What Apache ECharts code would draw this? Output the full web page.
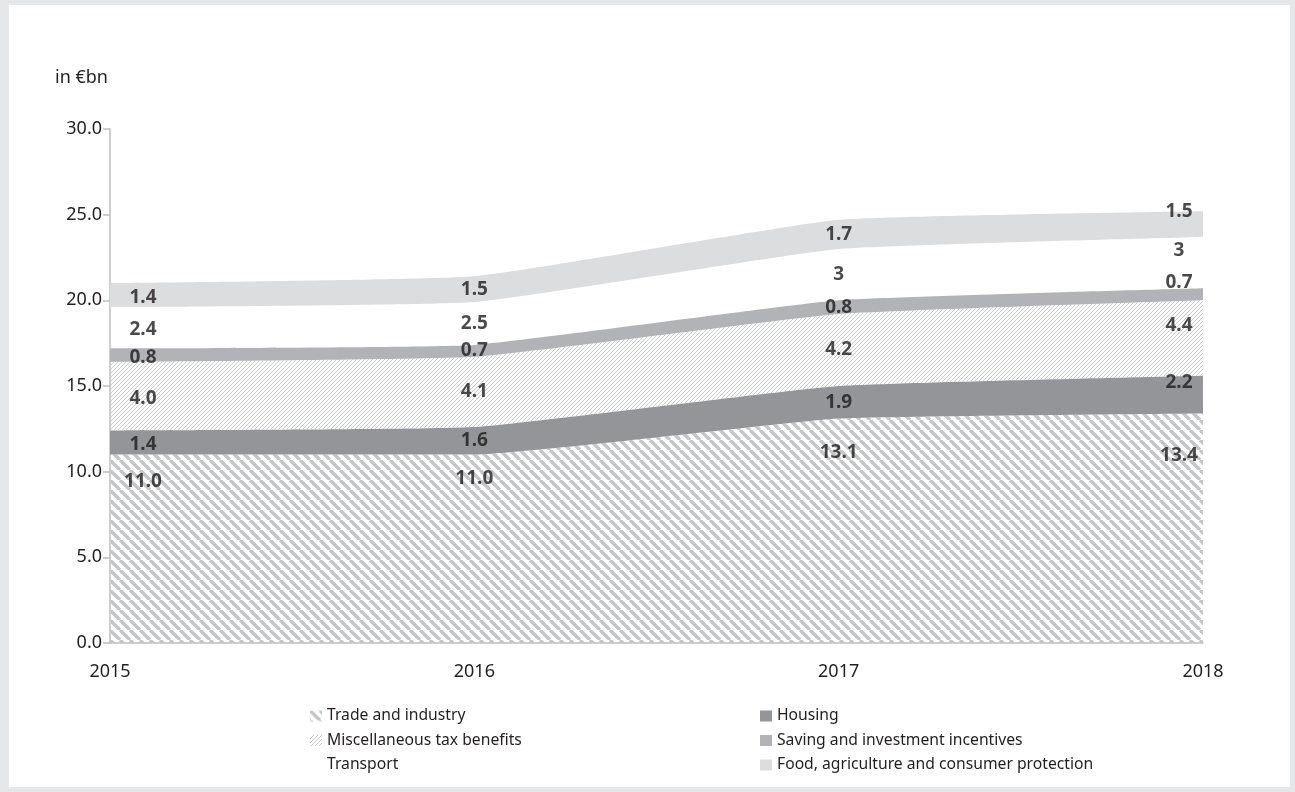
<!DOCTYPE html>
<html>
<head>
<meta charset="utf-8">
<title>Tax benefits by area, 2015–2018</title>
<script src="https://cdn.jsdelivr.net/npm/echarts@6/dist/echarts.min.js"></script>
<style>
  html, body { margin: 0; padding: 0; background: #e6e7e9; }
  #chart { width: 1295px; height: 792px; }
</style>
</head>
<body>
<div id="chart"></div>
<script>
// ---- data (in € billions) ----
const years = ['2015', '2016', '2017', '2018'];
const tradeIndustry = [11.0, 11.0, 13.1, 13.4];
const housing = [1.4, 1.6, 1.9, 2.2];
const miscTaxBenefits = [4.0, 4.1, 4.2, 4.4];
const savingInvestment = [0.8, 0.7, 0.8, 0.7];
const transport = [2.4, 2.5, 3, 3];
const foodAgriculture = [1.4, 1.5, 1.7, 1.5];
const valueLabels = {
  trade: ['11.0', '11.0', '13.1', '13.4'],
  housing: ['1.4', '1.6', '1.9', '2.2'],
  misc: ['4.0', '4.1', '4.2', '4.4'],
  saving: ['0.8', '0.7', '0.8', '0.7'],
  transport: ['2.4', '2.5', '3', '3'],
  food: ['1.4', '1.5', '1.7', '1.5']
};
const yTicks = { min: 0, max: 30, step: 5 };

// ---- hatch patterns ----
function hatch(size, color, width, dir) {
  const c = document.createElement('canvas');
  c.width = c.height = size;
  const g = c.getContext('2d');
  g.strokeStyle = color;
  g.lineWidth = width;
  g.beginPath();
  for (let k = -1; k <= 1; k++) {
    if (dir === 'down') { g.moveTo(k * size, 0); g.lineTo(k * size + size, size); }
    else { g.moveTo(k * size, size); g.lineTo(k * size + size, 0); }
  }
  g.stroke();
  return { image: c, repeat: 'repeat' };
}
const tradeFill = hatch(10, '#c4c5c7', 3.4, 'down');
const miscFill = hatch(4, '#bdbec0', 0.8, 'up');

const bands = [
  { name: 'Trade and industry', values: tradeIndustry, labels: valueLabels.trade, fill: tradeFill, anchor: 'top' },
  { name: 'Housing', values: housing, labels: valueLabels.housing, fill: '#939598', anchor: 'mid' },
  { name: 'Miscellaneous tax benefits', values: miscTaxBenefits, labels: valueLabels.misc, fill: miscFill, anchor: 'mid' },
  { name: 'Saving and investment incentives', values: savingInvestment, labels: valueLabels.saving, fill: '#b1b3b6', anchor: 'mid' },
  { name: 'Transport', values: transport, labels: valueLabels.transport, fill: 'rgba(255,255,255,0)', anchor: 'mid' },
  { name: 'Food, agriculture and consumer protection', values: foodAgriculture, labels: valueLabels.food, fill: '#dcdddf', anchor: 'mid' }
];

// label nudges per year column (pixels)
const labelDX = [33, 0, 0, -24];
const labelDY = [2, 0, 0, -12];
const topLabelDrop = [27, 24, 34, 42];

const series = [];
const base = years.map(() => 0);
bands.forEach(b => {
  series.push({
    name: b.name,
    type: 'line',
    stack: 'total',
    smooth: 0.12,
    symbol: 'none',
    lineStyle: { width: 0 },
    itemStyle: { color: b.fill },
    areaStyle: { color: b.fill, opacity: 1 },
    emphasis: { disabled: true },
    data: b.values,
    z: 2
  });
  const pts = years.map((y, i) => {
    const bottom = base[i];
    const top = bottom + b.values[i];
    const yv = b.anchor === 'top' ? top : bottom + b.values[i] / 2;
    const dy = b.anchor === 'top' ? topLabelDrop[i] : labelDY[i];
    return {
      value: [y, yv],
      label: { offset: [labelDX[i], dy], formatter: b.labels[i] }
    };
  });
  years.forEach((y, i) => { base[i] += b.values[i]; });
  series.push({
    name: b.name + ' label',
    type: 'scatter',
    symbolSize: 0,
    silent: true,
    z: 5,
    clip: false,
    label: {
      show: true,
      position: 'inside',
      fontFamily: 'Noto Sans',
      fontWeight: 'bold',
      fontSize: 19,
      color: '#1e1b1c'
    },
    data: pts
  });
});

const legendText = { fontFamily: 'Noto Sans', fontSize: 15.7, color: '#231f20', lineHeight: 18 };
function legendItem(b) {
  return { name: b.name, icon: 'rect', itemStyle: { color: b.fill, borderWidth: 0 } };
}

const chart = echarts.init(document.getElementById('chart'), null, { renderer: 'canvas' });
chart.setOption({
  backgroundColor: '#e6e7e9',
  animation: false,
  graphic: [{
    type: 'rect', left: 9, top: 5, z: -10, silent: true,
    shape: { width: 1281, height: 782 },
    style: { fill: '#ffffff' }
  }],
  title: {
    text: 'in €bn', left: 50, top: 64,
    textStyle: { fontFamily: 'Noto Sans', fontSize: 18, fontWeight: 'normal', color: '#231f20' }
  },
  grid: { left: 110, right: 92, top: 129, bottom: 149, containLabel: false },
  xAxis: {
    type: 'category',
    data: years,
    boundaryGap: false,
    axisTick: { show: false },
    axisLine: { lineStyle: { color: '#bdbec0', width: 1.5 } },
    axisLabel: { margin: 20, fontFamily: 'Noto Sans', fontSize: 18, color: '#231f20' },
    splitLine: { show: false }
  },
  yAxis: {
    type: 'value',
    min: yTicks.min, max: yTicks.max, interval: yTicks.step,
    axisLine: { show: true, lineStyle: { color: '#bdbec0', width: 1.5 } },
    axisTick: { show: true, length: 7, lineStyle: { color: '#bdbec0', width: 1.5 } },
    axisLabel: { margin: 8, fontFamily: 'Noto Sans', fontSize: 18, color: '#231f20', formatter: v => v.toFixed(1) },
    splitLine: { show: false }
  },
  legend: [
    {
      orient: 'vertical', left: 305, top: 702, itemGap: 6.5,
      itemWidth: 12, itemHeight: 11, selectedMode: false,
      textStyle: legendText,
      data: [bands[0], bands[2], bands[4]].map(legendItem)
    },
    {
      orient: 'vertical', left: 755, top: 702, itemGap: 6.5,
      itemWidth: 12, itemHeight: 11, selectedMode: false,
      textStyle: legendText,
      data: [bands[1], bands[3], bands[5]].map(legendItem)
    }
  ],
  series: series
});
</script>
</body>
</html>
